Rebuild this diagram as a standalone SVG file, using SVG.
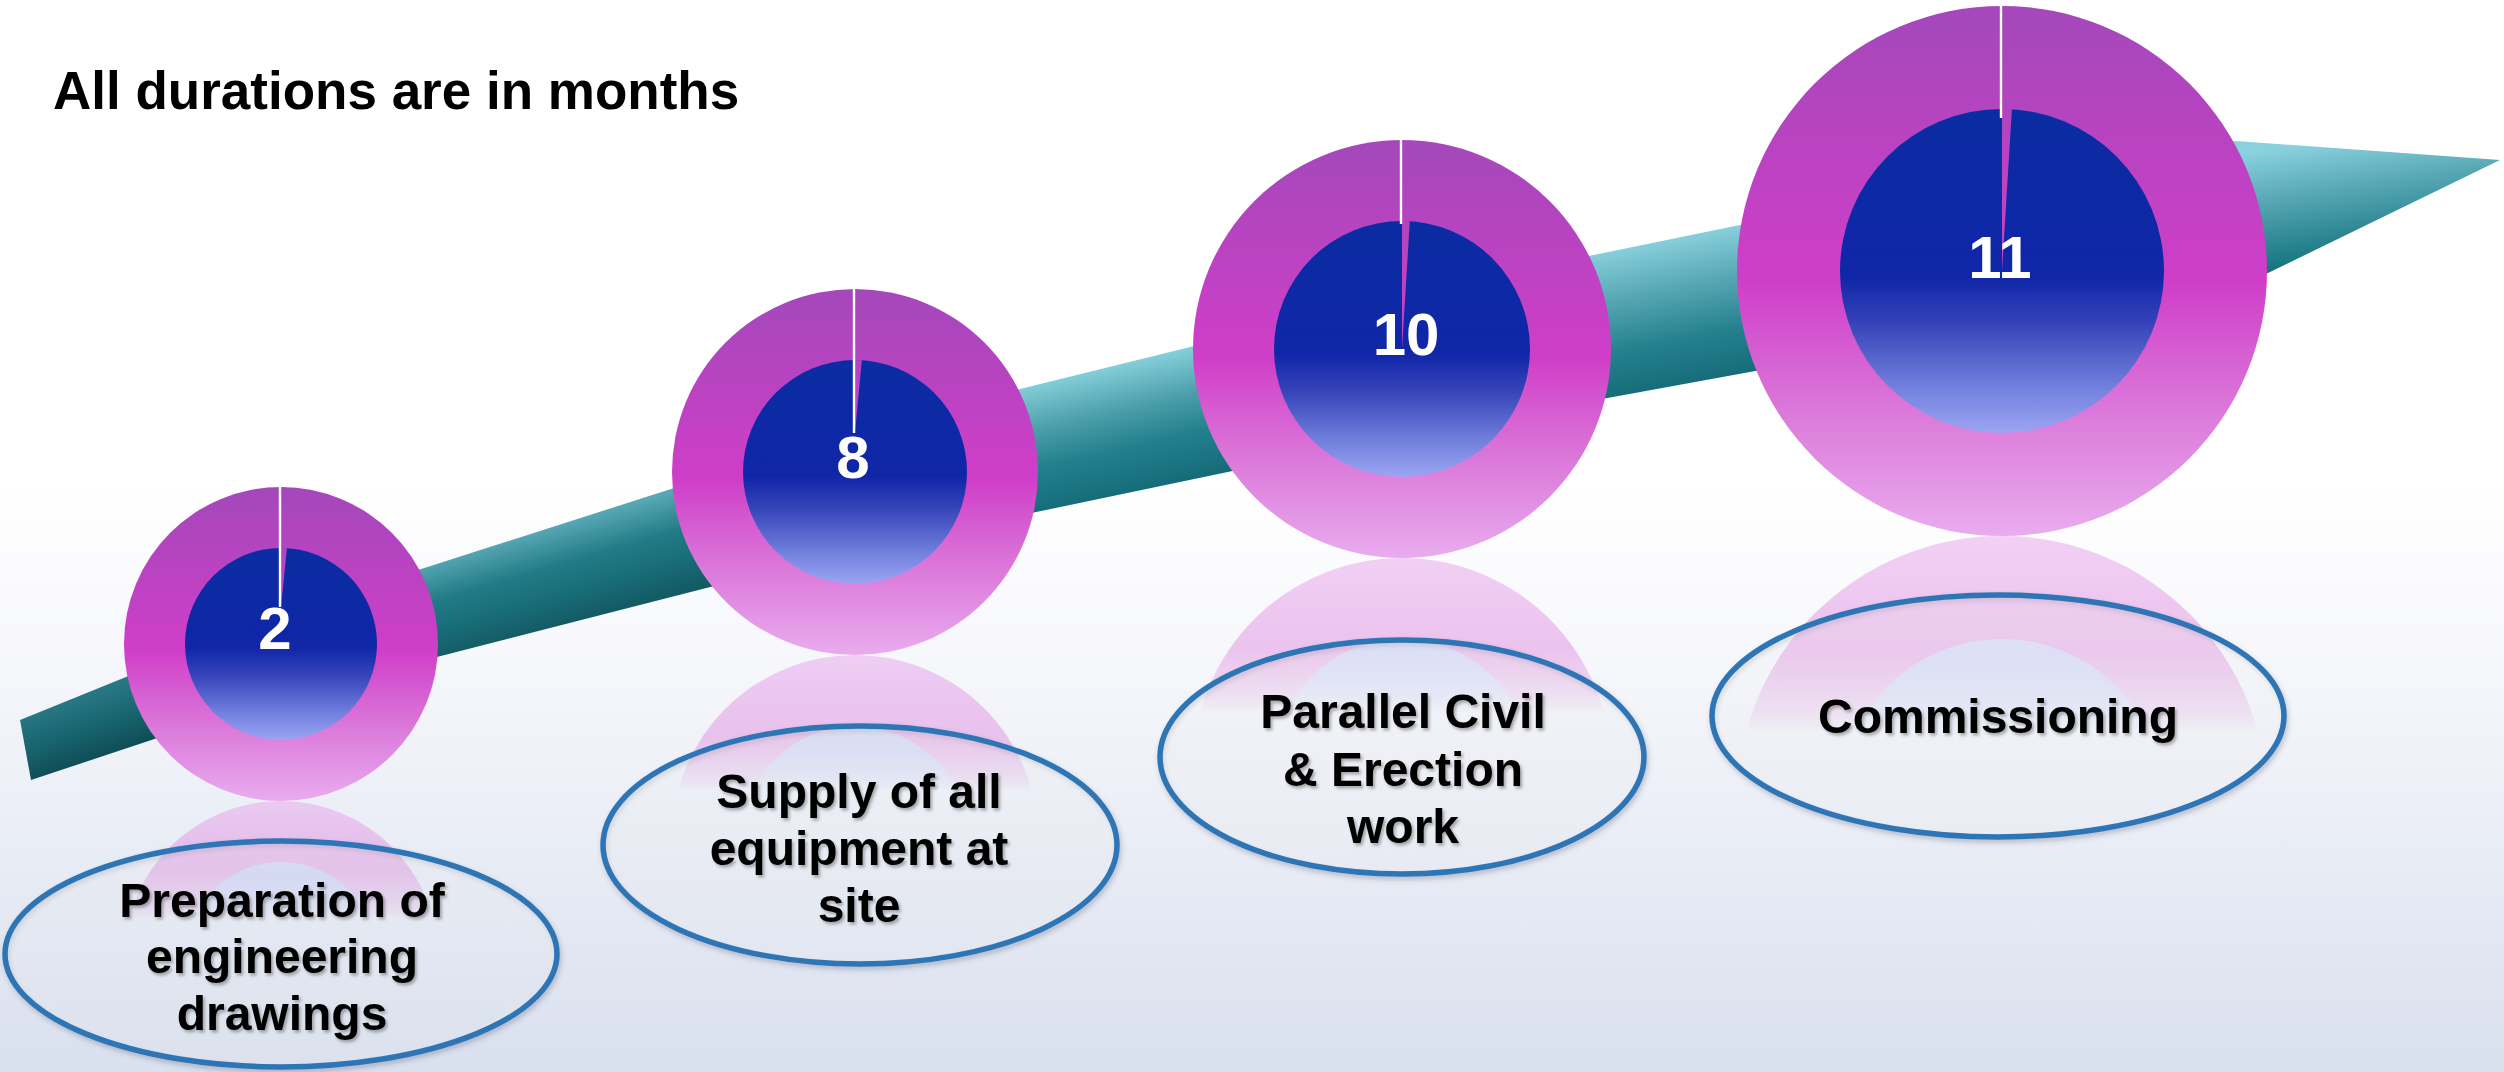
<svg xmlns="http://www.w3.org/2000/svg" width="2504" height="1072" viewBox="0 0 2504 1072">
  <defs>
    <style>
      .title { font-family: "Liberation Sans", Arial, sans-serif; font-weight: bold; font-size: 53px; fill: #000000; }
      .label { font-family: "Liberation Sans", Arial, sans-serif; font-weight: bold; font-size: 48px; fill: #000000; text-anchor: middle; }
      .value { font-family: "Liberation Sans", Arial, sans-serif; font-weight: bold; font-size: 60px; fill: #ffffff; text-anchor: middle; }
      .ring { fill: url(#ringGrad); }
      .hole { fill: url(#holeGrad); }
      .slice { fill: url(#sliceGrad); }
      .gap { stroke: #ffffff; stroke-width: 2.4; }
      .oval { fill: #ffffff; fill-opacity: 0.12; stroke: #2e75b6; stroke-width: 5.5; }
    </style>

    <!-- page background -->
    <linearGradient id="bgGrad" x1="0" y1="0" x2="0" y2="1">
      <stop offset="0" stop-color="#ffffff"/>
      <stop offset="0.45" stop-color="#ffffff"/>
      <stop offset="0.62" stop-color="#f6f7fb"/>
      <stop offset="1" stop-color="#d9e0ee"/>
    </linearGradient>

    <!-- doughnut colours -->
    <linearGradient id="ringGrad" x1="0" y1="0" x2="0" y2="1">
      <stop offset="0" stop-color="#a448bb"/>
      <stop offset="0.52" stop-color="#cf3ec8"/>
      <stop offset="0.78" stop-color="#dc7cdb"/>
      <stop offset="1" stop-color="#e9acee"/>
    </linearGradient>
    <linearGradient id="holeGrad" x1="0" y1="0" x2="0" y2="1">
      <stop offset="0" stop-color="#0a2ca2"/>
      <stop offset="0.52" stop-color="#1026a8"/>
      <stop offset="0.66" stop-color="#3543b9"/>
      <stop offset="0.85" stop-color="#6f7ddc"/>
      <stop offset="1" stop-color="#9ca5f3"/>
    </linearGradient>
    <linearGradient id="sliceGrad" x1="0" y1="0" x2="0" y2="1">
      <stop offset="0" stop-color="#b244be"/>
      <stop offset="1" stop-color="#cd40c7"/>
    </linearGradient>

    <!-- mirrored colours for the floor reflections -->
    <linearGradient id="ringReflGrad" x1="0" y1="0" x2="0" y2="1">
      <stop offset="0" stop-color="#e9acee"/>
      <stop offset="0.22" stop-color="#dc7cdb"/>
      <stop offset="0.48" stop-color="#cf3ec8"/>
      <stop offset="1" stop-color="#a448bb"/>
    </linearGradient>
    <linearGradient id="holeReflGrad" x1="0" y1="0" x2="0" y2="1">
      <stop offset="0" stop-color="#b9c0f6"/>
      <stop offset="0.3" stop-color="#8e98ea"/>
      <stop offset="1" stop-color="#1026a8"/>
    </linearGradient>
    <linearGradient id="reflFade" x1="0" y1="0" x2="0" y2="1">
      <stop offset="0" stop-color="#ffffff" stop-opacity="0.55"/>
      <stop offset="0.22" stop-color="#ffffff" stop-opacity="0.42"/>
      <stop offset="0.34" stop-color="#ffffff" stop-opacity="0.12"/>
      <stop offset="0.37" stop-color="#ffffff" stop-opacity="0"/>
      <stop offset="1" stop-color="#ffffff" stop-opacity="0"/>
    </linearGradient>
    <mask id="reflMask" maskContentUnits="objectBoundingBox">
      <rect x="0" y="0" width="1" height="1" fill="url(#reflFade)"/>
    </mask>

    <!-- timeline band shading, one gradient per straight piece -->
    <linearGradient id="band0" gradientUnits="userSpaceOnUse" x1="150" y1="667" x2="173" y2="732">
      <stop offset="0" stop-color="#2a7a85"/>
      <stop offset="0.5" stop-color="#196671"/>
      <stop offset="1" stop-color="#0e4d56"/>
    </linearGradient>
    <linearGradient id="band1" gradientUnits="userSpaceOnUse" x1="568" y1="522" x2="595" y2="615">
      <stop offset="0" stop-color="#58a8b4"/>
      <stop offset="0.4" stop-color="#217b86"/>
      <stop offset="0.7" stop-color="#196d78"/>
      <stop offset="1" stop-color="#135b65"/>
    </linearGradient>
    <linearGradient id="band2" gradientUnits="userSpaceOnUse" x1="1130" y1="362" x2="1159" y2="486">
      <stop offset="0" stop-color="#84ced9"/>
      <stop offset="0.35" stop-color="#4c9faa"/>
      <stop offset="0.65" stop-color="#22808d"/>
      <stop offset="1" stop-color="#156c79"/>
    </linearGradient>
    <linearGradient id="band3" gradientUnits="userSpaceOnUse" x1="1680" y1="237" x2="1708" y2="379">
      <stop offset="0" stop-color="#87cfdb"/>
      <stop offset="0.35" stop-color="#55a6b2"/>
      <stop offset="0.7" stop-color="#24808d"/>
      <stop offset="1" stop-color="#166d7a"/>
    </linearGradient>
    <linearGradient id="band4" gradientUnits="userSpaceOnUse" x1="2300" y1="145" x2="2318" y2="262">
      <stop offset="0" stop-color="#8ad1de"/>
      <stop offset="0.4" stop-color="#5aaab6"/>
      <stop offset="1" stop-color="#157481"/>
    </linearGradient>

    <filter id="textShadow" x="-10%" y="-20%" width="120%" height="150%">
      <feDropShadow dx="2" dy="2.5" stdDeviation="1.6" flood-color="#000000" flood-opacity="0.3"/>
    </filter>
    <filter id="ovalShadow" x="-10%" y="-10%" width="120%" height="130%">
      <feDropShadow dx="1.5" dy="3" stdDeviation="2.5" flood-color="#404060" flood-opacity="0.3"/>
    </filter>
  </defs>

  <!-- background -->
  <rect x="0" y="0" width="2504" height="1072" fill="url(#bgGrad)"/>

  <!-- title -->
  <text class="title" x="53" y="109">All durations are in months</text>

  <!-- soft floor reflections under each doughnut -->
  <g id="reflections">
    <g mask="url(#reflMask)">
      <circle cx="281" cy="958" r="157" fill="url(#ringReflGrad)"/>
      <circle cx="281" cy="958" r="96" fill="url(#holeReflGrad)"/>
    </g>
    <g mask="url(#reflMask)">
      <circle cx="855" cy="838" r="183" fill="url(#ringReflGrad)"/>
      <circle cx="855" cy="838" r="112" fill="url(#holeReflGrad)"/>
    </g>
    <g mask="url(#reflMask)">
      <circle cx="1402" cy="767" r="209" fill="url(#ringReflGrad)"/>
      <circle cx="1402" cy="767" r="128" fill="url(#holeReflGrad)"/>
    </g>
    <g mask="url(#reflMask)">
      <circle cx="2002" cy="801" r="265" fill="url(#ringReflGrad)"/>
      <circle cx="2002" cy="801" r="162" fill="url(#holeReflGrad)"/>
    </g>
  </g>

  <!-- rising timeline arrow; pieces join under the doughnuts -->
  <g id="connectors">
    <polygon points="20,720 281,614 281,697 31,780" fill="url(#band0)"/>
    <polygon points="281,614 855,430 855,550 281,697" fill="url(#band1)"/>
    <polygon points="855,430 1404,294 1404,435 855,550" fill="url(#band2)"/>
    <polygon points="1404,294 2002,171 2002,326 1404,435" fill="url(#band3)"/>
    <polygon points="2002,171 2236,141 2500,160 2268,273 2002,326" fill="url(#band4)"/>
  </g>

  <!-- doughnut milestones -->
  <g id="node-2">
    <circle class="ring" cx="281" cy="644" r="157"/>
    <circle class="hole" cx="281" cy="644" r="96"/>
    <path class="slice" d="M281,607 L281,548 A96,96 0 0 1 286.9,548.2 Z"/>
    <line class="gap" x1="280" y1="487" x2="280" y2="607"/>
    <text class="value" x="275" y="649">2</text>
  </g>
  <g id="node-8">
    <circle class="ring" cx="855" cy="472" r="183"/>
    <circle class="hole" cx="855" cy="472" r="112"/>
    <path class="slice" d="M855,433 L855,360 A112,112 0 0 1 861.8,360.2 Z"/>
    <line class="gap" x1="854" y1="289" x2="854" y2="433"/>
    <text class="value" x="853" y="478">8</text>
  </g>
  <g id="node-10">
    <circle class="ring" cx="1402" cy="349" r="209"/>
    <circle class="hole" cx="1402" cy="349" r="128"/>
    <path class="slice" d="M1402,349 L1402,221 A128,128 0 0 1 1409.8,221.2 Z"/>
    <line class="gap" x1="1401" y1="140" x2="1401" y2="224"/>
    <text class="value" x="1406" y="355">10</text>
  </g>
  <g id="node-11">
    <circle class="ring" cx="2002" cy="271" r="265"/>
    <circle class="hole" cx="2002" cy="271" r="162"/>
    <path class="slice" d="M2002,271 L2002,109 A162,162 0 0 1 2011.9,109.3 Z"/>
    <line class="gap" x1="2001" y1="6" x2="2001" y2="118"/>
    <text class="value" x="2000" y="278">11</text>
  </g>

  <!-- stage labels -->
  <g id="label-engineering">
    <ellipse class="oval" cx="281" cy="954" rx="276" ry="113" filter="url(#ovalShadow)"/>
    <g filter="url(#textShadow)">
      <text class="label" x="282" y="917">Preparation of</text>
      <text class="label" x="282" y="973">engineering</text>
      <text class="label" x="282" y="1030">drawings</text>
    </g>
  </g>
  <g id="label-supply">
    <ellipse class="oval" cx="860" cy="845" rx="257" ry="119" filter="url(#ovalShadow)"/>
    <g filter="url(#textShadow)">
      <text class="label" x="859" y="808">Supply of all</text>
      <text class="label" x="859" y="865">equipment at</text>
      <text class="label" x="859" y="922">site</text>
    </g>
  </g>
  <g id="label-civil">
    <ellipse class="oval" cx="1402" cy="757" rx="242" ry="117" filter="url(#ovalShadow)"/>
    <g filter="url(#textShadow)">
      <text class="label" x="1403" y="728">Parallel Civil</text>
      <text class="label" x="1403" y="786">&amp; Erection</text>
      <text class="label" x="1403" y="843">work</text>
    </g>
  </g>
  <g id="label-commissioning">
    <ellipse class="oval" cx="1998" cy="716" rx="286" ry="121" filter="url(#ovalShadow)"/>
    <g filter="url(#textShadow)">
      <text class="label" x="1998" y="733">Commissioning</text>
    </g>
  </g>
</svg>
